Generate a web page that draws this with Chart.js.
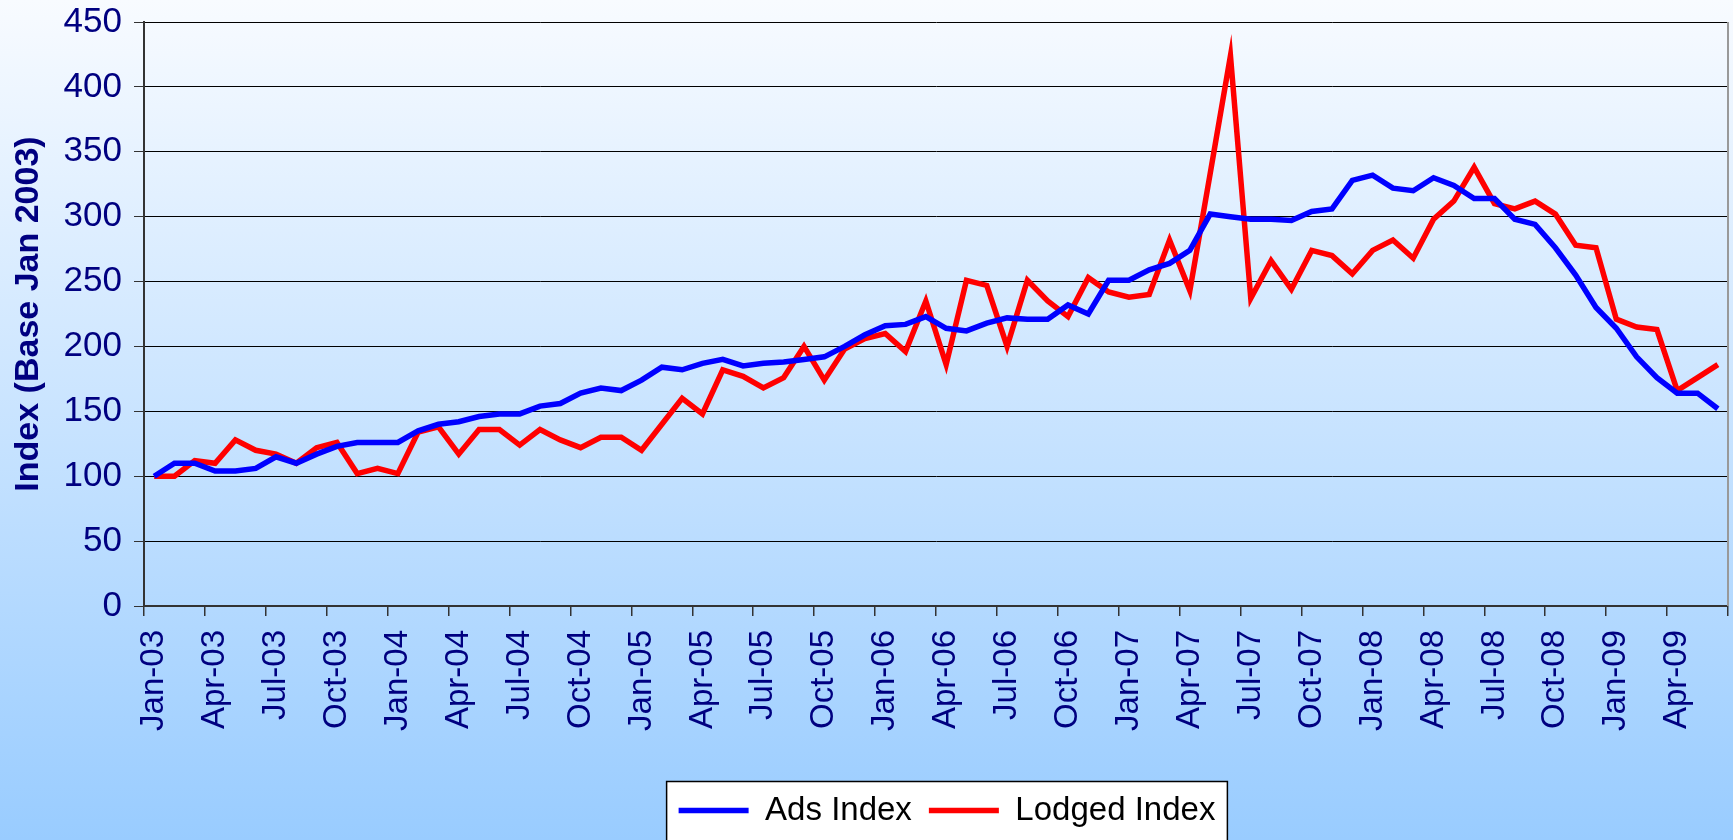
<!DOCTYPE html>
<html>
<head>
<meta charset="utf-8">
<script src="https://cdn.jsdelivr.net/npm/chart.js@4/dist/chart.umd.min.js"></script>
<style>
  html, body { margin: 0; padding: 0; }
  body { width: 1733px; height: 840px; overflow: hidden; }
</style>
</head>
<body>
<canvas id="chart" width="1733" height="840"></canvas>
<script>
// monthly labels, Jan-03 .. Jun-09
const months = [
  'Jan-03','Feb-03','Mar-03','Apr-03','May-03','Jun-03','Jul-03','Aug-03','Sep-03','Oct-03','Nov-03','Dec-03',
  'Jan-04','Feb-04','Mar-04','Apr-04','May-04','Jun-04','Jul-04','Aug-04','Sep-04','Oct-04','Nov-04','Dec-04',
  'Jan-05','Feb-05','Mar-05','Apr-05','May-05','Jun-05','Jul-05','Aug-05','Sep-05','Oct-05','Nov-05','Dec-05',
  'Jan-06','Feb-06','Mar-06','Apr-06','May-06','Jun-06','Jul-06','Aug-06','Sep-06','Oct-06','Nov-06','Dec-06',
  'Jan-07','Feb-07','Mar-07','Apr-07','May-07','Jun-07','Jul-07','Aug-07','Sep-07','Oct-07','Nov-07','Dec-07',
  'Jan-08','Feb-08','Mar-08','Apr-08','May-08','Jun-08','Jul-08','Aug-08','Sep-08','Oct-08','Nov-08','Dec-08',
  'Jan-09','Feb-09','Mar-09','Apr-09','May-09','Jun-09'
];

const adsIndex = [
  100, 110, 110, 104, 104, 106, 115, 110, 117, 123, 126, 126,
  126, 135, 140, 142, 146, 148, 148, 154, 156, 164, 168, 166,
  174, 184, 182, 187, 190, 185, 187, 188, 190, 192, 200, 209,
  216, 217, 223, 214, 212, 218, 222, 221, 221, 232, 225, 251,
  251, 259, 264, 274, 302, 300, 298, 298, 297, 304, 306, 328,
  332, 322, 320, 330, 324, 314, 314, 298, 294, 276, 255, 230,
  214, 192, 176, 164, 164, 152
];

const lodgedIndex = [
  100, 100, 112, 110, 128, 120, 117, 110, 122, 126, 102, 106,
  102, 134, 138, 117, 136, 136, 124, 136, 128, 122, 130, 130,
  120, 140, 160, 148, 182, 177, 168, 176, 200, 174, 198, 206,
  210, 196, 235, 186, 251, 247, 200, 251, 235, 223, 253, 242,
  238, 240, 282, 243, 333, 424, 237, 266, 244, 274, 270, 256,
  274, 282, 268, 298, 312, 338, 310, 306, 312, 302, 278, 276,
  221, 215, 213, 166, 176, 186
];

const yTicks = { min: 0, max: 450, step: 50 };

const FONT = "'Liberation Sans', Arial, sans-serif";
const NAVY = '#000080';

// page background + frame + legend box
const frame = {
  id: 'frame',
  afterLayout(chart) {
    // legend sits a little right of the plot centre
    chart.legend.left += 11;
    chart.legend.right += 11;
  },
  beforeDraw(chart) {
    const ctx = chart.ctx;
    ctx.save();
    const g = ctx.createLinearGradient(0, 0, 0, chart.height);
    g.addColorStop(0, '#f8fbff');
    g.addColorStop(1, '#99ccff');
    ctx.fillStyle = g;
    ctx.fillRect(0, 0, chart.width, chart.height);

    const boxes = chart.legend.legendHitBoxes;
    if (boxes && boxes.length) {
      const first = boxes[0], last = boxes[boxes.length - 1];
      const mid = first.top + first.height / 2;
      const x0 = first.left - 12, x1 = last.left + last.width + 12;
      ctx.fillStyle = '#ffffff';
      ctx.fillRect(x0, mid - 29, x1 - x0, 80);
      ctx.strokeStyle = '#000000';
      ctx.lineWidth = 1.5;
      ctx.strokeRect(x0, mid - 29, x1 - x0, 80);
    }
    ctx.restore();
  },
  beforeDatasetsDraw(chart) {
    const { ctx, chartArea: a } = chart;
    ctx.save();
    ctx.strokeStyle = '#999999';
    ctx.lineWidth = 2;
    ctx.beginPath();
    ctx.moveTo(a.right, a.top);
    ctx.lineTo(a.right, a.bottom);
    ctx.stroke();
    ctx.restore();
  }
};

new Chart(document.getElementById('chart'), {
  type: 'line',
  data: {
    labels: months,
    datasets: [
      { label: 'Ads Index', data: adsIndex, borderColor: '#0000ff', backgroundColor: '#0000ff',
        borderWidth: 5.5, pointRadius: 0, tension: 0, pointStyle: 'line' },
      { label: 'Lodged Index', data: lodgedIndex, borderColor: '#ff0000', backgroundColor: '#ff0000',
        borderWidth: 5.5, pointRadius: 0, tension: 0, pointStyle: 'line' }
    ]
  },
  options: {
    responsive: false,
    animation: false,
    layout: { padding: { top: 22, right: 5, bottom: 3, left: 0 } },
    plugins: {
      legend: {
        position: 'bottom',
        fullSize: false,
        labels: {
          usePointStyle: true,
          pointStyleWidth: 70,
          boxHeight: 33,
          padding: 17,
          color: '#000000',
          font: { family: FONT, size: 33 }
        }
      },
      tooltip: { enabled: false }
    },
    scales: {
      x: {
        offset: true,
        grid: {
          offset: true,
          drawOnChartArea: false,
          tickLength: 10,
          lineWidth: 1.5,
          color: c => (c.index === undefined || c.index % 3 === 0) ? '#333333' : 'transparent'
        },
        border: { color: '#333333', width: 2 },
        ticks: {
          autoSkip: false,
          maxRotation: 90,
          minRotation: 90,
          padding: 14,
          color: NAVY,
          font: { family: FONT, size: 33 },
          callback(v, i) { return i % 3 === 0 ? this.getLabelForValue(v) : ''; }
        },
        afterFit(s) { s.height = 171; s.paddingLeft = 0; s.paddingRight = 0; }
      },
      y: {
        min: yTicks.min,
        max: yTicks.max,
        grid: { color: '#000000', lineWidth: 1, tickLength: 10, tickColor: '#333333' },
        border: { color: '#333333', width: 2 },
        ticks: {
          stepSize: yTicks.step,
          padding: 12,
          color: NAVY,
          font: { family: FONT, size: 35 }
        },
        title: {
          display: true,
          text: 'Index (Base Jan 2003)',
          color: NAVY,
          font: { family: FONT, size: 34, weight: 'bold' },
          padding: { top: 8, bottom: 0 }
        },
        afterFit(s) { s.width = 144; s.paddingTop = 0; s.paddingBottom = 0; }
      }
    }
  },
  plugins: [frame]
});
</script>
</body>
</html>
